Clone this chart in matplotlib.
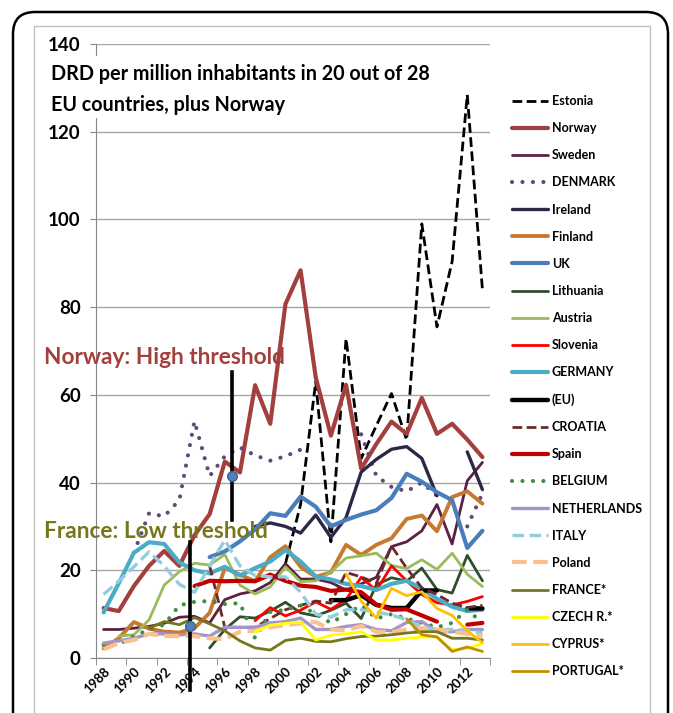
import numpy as np
import matplotlib.pyplot as plt
from matplotlib.patches import FancyBboxPatch, Rectangle

plt.rcParams['font.family'] = ['Lato', 'DejaVu Sans']
plt.rcParams['font.weight'] = 'bold'

N = None
years = list(range(1988, 2014))

estonia = [N]*12 + [21.5, 35, 63, 26.5, 72.8, 45.5, 53, 60.3, 49.7, 99, 75.5, 90.4, 128.4, 84]
norway = [11.4, 10.7, 16.4, 21, 24.4, 21, 28, 32.8, 44.8, 42.3, 62.2, 53.4, 80.7, 88.4,
          64, 50.7, 62.3, 43.2, 48.8, 53.9, 51.1, 59.3, 51.1, 53.4, 49.8, 45.8]
sweden = [6.5, 6.5, 6.8, 7.2, 7.9, 9.3, 9.5, 8, 13.3, 14.6, 15.3, 17.2, 21.5, 18,
          18, 17.2, 15.5, 16.9, 18.4, 25.4, 26.5, 29, 35, 26, 40.4, 44.6]
denmark = [N, N, 24, 33, 32.3, 36, 54, 41.5, 46, 48, 46.2, 45, 46, 47.5,
           N, N, N, 51, 41.5, 39, 38, 40, 37, N, 30, 37.5]
ireland = [N]*10 + [30, 30.8, 30, 28.5, 32.6, 27.5, 32, 42.4, 45.3, 47.6, 48.2, 45.5, 37, N, 47, 38.4]
finland = [2.2, 4.5, 8.2, 6.7, 6, 5.8, 6.8, 10.3, 20.5, 19, 17.5, 23, 25.5, 20.8,
           18.5, 19.5, 25.8, 23.5, 25.8, 27.3, 31.7, 32.5, 28.9, 36.7, 38, 35.2]
uk = [N]*7 + [23, 24.3, 26.6, 29.3, 33, 32.4, 36.8, 34.5, 30, 31.5, 32.7, 33.7, 36.5, 42, 40.2, 37.8, 36, 25.1, 29]
lithuania = [N]*7 + [2.3, 6.5, 9.4, 9.1, 10.7, 12.7, 10.3, 9.6, 10.9, 12.5, 9, 16.7, 18.3, 17.5, 20.5, 15.6, 14.8, 23.4, 17.6]
austria = [N, 5, 5.3, 8.7, 16.6, 19.7, 21.6, 21.2, 23.6, 16.6, 14.6, 16.2, 20.8, 17.4,
           17.6, 19.6, 22.8, 23.3, 23.9, 21.1, 20.4, 22.4, 20.2, 23.9, 19.1, 16.3]
slovenia = [N]*10 + [8.5, 11.5, 9.6, 10.9, 12.8, 11.1, 13.3, 18.4, 15.4, 21, 17.6, 14.5, 12.6, 12.1, 12.9, 14]
germany = [10.4, 17, 24, 26.4, 26, 21.8, 20, 19.3, 20.8, 18.8, 20.5, 22, 24.6, 22,
           18.6, 17.9, 16.9, 16.4, 15.5, 16.9, 17.6, 15.8, 13.5, 11.7, 10.7, 11]
eu = [N]*15 + [13.2, 13.2, 14.3, 12.1, 11.4, 11.4, 15.4, 15.4, N, 11.3, 11.3]
croatia = [N]*7 + [21, 7, 7, 7, 9, 11, 12, 13, 12.5, 19.5, 18.5, 17, 25.5, 20.5, 16, 14.5, 12.5, 11.5, 12]
spain = [N]*6 + [16.4, 17.6, 17.5, 17.6, 17.5, 19, 17.6, 16.5, 16.2, 15.3, 15.6, 15, 12.2, 11, 11.1, 9.7, 8.3, N, 7.6, 8]
belgium = [3, 3, 5, 6.5, 7.6, 12, 12.8, 13, 12.3, 12.5, 4.5, 10.5, 11, 12,
           10, 8, 10, 12, 9, 10, 9, 8, 7, 8, 11, 8]
netherlands = [3.4, 3.9, 4.5, 5.5, 5.5, 5.3, 5.5, 5, 7, 7, 7, 8, 8.3, 9.1,
               6.5, 6.5, 7.2, 7.6, 6.5, 6.2, 8.1, 8.3, 6, 6, 6.5, 6.5]
italy = [14.5, 17.5, 20.8, 24.2, 21, 16.8, 15, 21, 26.9, 21, 18.8, 18.5, 18.5, 15,
         10, 9.3, 11, 11, 10.5, 9.8, 8.7, 7, 6.5, 6.5, 6.3, 5.7]
poland = [2, 3.4, 4.1, 5.5, 5, 5, 5, 4.5, 4.3, 6, 6.2, 7, 7.5, 7.9,
          8.2, 6.5, 6.3, 7.3, 6, 5.9, 6.5, 6.8, 6.5, 6, 5.5, 5]
france = [N]*3 + [6.8, 8.3, 7.6, 9.2, 7.8, 6.2, 3.9, 2.3, 1.8, 4, 4.5, 3.8, 3.7, 4.4, 4.9, 5, 5.3, 5.7, 6, 6, 4.5, 4.5, 4.1]
czech = [N]*10 + [6, 7.5, 7.9, 8.2, 4.1, 5.2, 5.5, 6, 4.1, 4.1, 4.5, 4.8, 4.8, 1.9, 2.2, 3.3]
cyprus = [N]*16 + [19.2, 13, 9.1, 15.9, 14.2, 15.1, 11.3, 9.7, 6.2, 3.5]
portugal = [N]*20 + [8.9, 5.3, 4.8, 1.5, 2.5, 1.5]

# threshold markers (x position, top, bottom, dot)
marker_x = [1996.5, 1993.7]
marker_top = [65.3, 26.5]
marker_bottom = [31.5, -7.3]
marker_dot = [41.5, 7.3]

dash = (0, (3.5, 1.6))
dot = (0, (0.01, 2.5))
series = [
    ('Estonia', estonia, 'black', 2.0, dash),
    ('Norway', norway, '#A3403D', 3.0, '-'),
    ('Sweden', sweden, '#5B2142', 2.0, '-'),
    ('DENMARK', denmark, '#604A7B', 3.0, dot),
    ('Ireland', ireland, '#2E2647', 2.4, '-'),
    ('Finland', finland, '#C8782F', 2.8, '-'),
    ('UK', uk, '#4A7EBB', 3.0, '-'),
    ('Lithuania', lithuania, '#2F4F2C', 2.0, '-'),
    ('Austria', austria, '#9BBB59', 2.0, '-'),
    ('Slovenia', slovenia, '#FF0000', 2.0, '-'),
    ('GERMANY', germany, '#4BACC6', 3.0, '-'),
    ('(EU)', eu, 'black', 3.2, '-'),
    ('CROATIA', croatia, '#6B2A2A', 2.0, dash),
    ('Spain', spain, '#C00000', 3.0, '-'),
    ('BELGIUM', belgium, '#3E8E3E', 3.0, dot),
    ('NETHERLANDS', netherlands, '#A594C8', 2.4, '-'),
    ('ITALY', italy, '#93CDDD', 2.4, dash),
    ('Poland', poland, '#FAC090', 3.0, dash),
    ('FRANCE*', france, '#76761C', 2.0, '-'),
    ('CZECH R.*', czech, '#FFFF00', 2.0, '-'),
    ('CYPRUS*', cyprus, '#FFC000', 2.0, '-'),
    ('PORTUGAL*', portugal, '#BF9000', 2.0, '-'),
]

fig = plt.figure(figsize=(6.73, 7.13), dpi=100)
ax = fig.add_axes([96/673, 55/713, 394/673, 614/713])

handles = []
for i, (name, vals, col, lw, ls) in enumerate(series):
    v = np.array([np.nan if x is None else x for x in vals], dtype=float)
    cap = 'round' if ls is dot else 'butt'
    ln, = ax.plot(years, v, color=col, lw=lw, linestyle=ls, label=name,
                  solid_capstyle='round', dash_capstyle=cap, zorder=2 + i*0.01)
    handles.append(ln)

for x, t, b, d in zip(marker_x, marker_top, marker_bottom, marker_dot):
    ax.plot([x, x], [b, t], color='black', lw=2.6, clip_on=False, zorder=4)
    ax.plot([x], [d], 'o', color='#4F81BD', mec='#3A6496', ms=7, clip_on=False, zorder=5)

ax.set_xlim(1987.5, 2013.5)
ax.set_ylim(0, 140)
ax.set_yticks(range(0, 141, 20))
ax.yaxis.grid(True, color='#A6A6A6', lw=1)
ax.set_axisbelow(True)
ax.set_xticks(range(1988, 2013, 2))
ax.set_xticks(np.arange(1987.5, 2014, 2), minor=True)
ax.tick_params(axis='x', which='major', length=0, pad=5, labelsize=9.5, labelrotation=45)
ax.tick_params(axis='x', which='minor', length=5, color='#868686')
ax.tick_params(axis='y', length=4, color='#868686', labelsize=13.5, pad=7)
for lab in ax.get_xticklabels():
    lab.set_ha('right')
    lab.set_va('top')
    lab.set_rotation_mode('anchor')
for s in ['top', 'right']:
    ax.spines[s].set_visible(False)
ax.spines['left'].set_color('#868686')
ax.spines['bottom'].set_color('#868686')

# title with white box over the plot
fig.add_artist(Rectangle((48/673, 1 - 118/713), 392/673, 62/713, transform=fig.transFigure,
                         facecolor='white', edgecolor='none', zorder=1))
fig.text(51/673, 1 - 74/713, 'DRD per million inhabitants in 20 out of 28', fontsize=14.2,
         va='center', ha='left', zorder=3)
fig.text(51/673, 1 - 105/713, 'EU countries, plus Norway', fontsize=14.2,
         va='center', ha='left', zorder=3)

fig.text(44/673, 1 - 357/713, 'Norway: High threshold', fontsize=16.3, color='#A3403D',
         va='center', ha='left', zorder=6)
fig.text(44/673, 1 - 531/713, 'France: Low threshold', fontsize=16.3, color='#76761C',
         va='center', ha='left', zorder=6)

fig.legend(handles=handles, loc='upper left', bbox_to_anchor=(512/673, 1 - 95/713),
           frameon=False, fontsize=9, handlelength=2.9, handletextpad=0.3,
           labelspacing=1.21, borderpad=0, borderaxespad=0)

# chart area border and outer rounded frame
fig.add_artist(Rectangle((34, -20), 616, 713 - 26 + 20, transform=None, facecolor='none',
                         edgecolor='#BFBFBF', lw=1, zorder=0))
fig.add_artist(FancyBboxPatch((13, -60), 655, 713 - 12 + 60, transform=None,
                              boxstyle='round,pad=0,rounding_size=22', facecolor='none',
                              edgecolor='black', lw=1.8, zorder=7))

fig.savefig('out.png', dpi=100)
